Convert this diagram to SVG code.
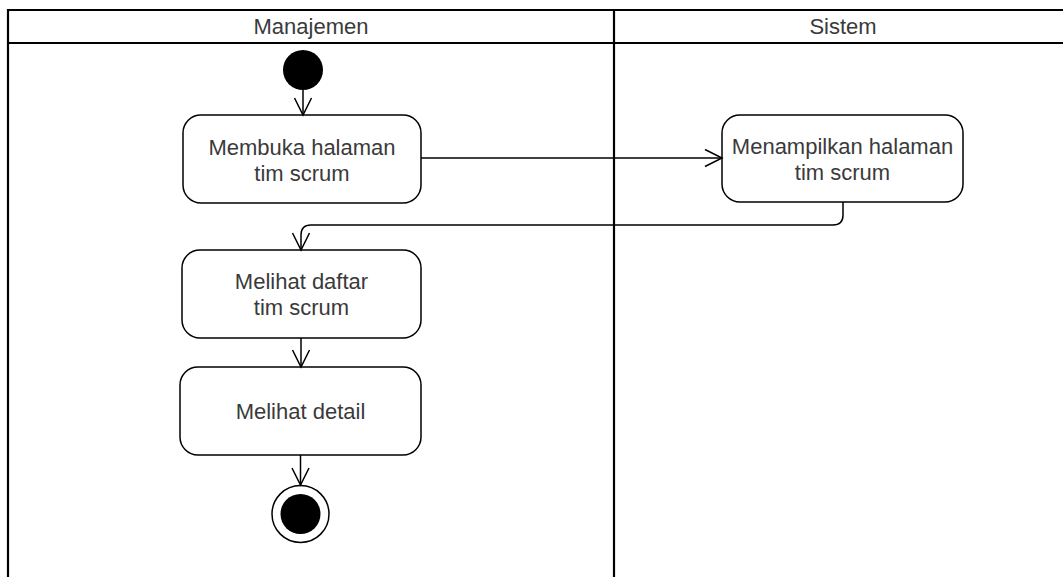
<svg xmlns="http://www.w3.org/2000/svg" width="1063" height="577" viewBox="0 0 1063 577">
<style>
.lane{stroke:#000;stroke-width:2.2;fill:none}
.box{fill:#fff;stroke:#000;stroke-width:1.5}
.t{font-family:"Liberation Sans",Arial,sans-serif;font-size:22px;fill:#3a3a3a;text-anchor:middle}
.c{fill:none;stroke:#000;stroke-width:1.5}
</style>
<defs>
<marker id="open" viewBox="0 0 22 22" refX="20" refY="11" markerWidth="22" markerHeight="22" markerUnits="userSpaceOnUse" orient="auto">
<path d="M3,2.5 L20,11 L3,19.5" fill="none" stroke="#000" stroke-width="1.5"/>
</marker>
</defs>
<rect width="1063" height="577" fill="#fff"/>
<g id="lanes">
<line class="lane" x1="8" y1="10" x2="1063" y2="10"/>
<line class="lane" x1="8" y1="43" x2="1063" y2="43"/>
<line class="lane" x1="8" y1="9" x2="8" y2="577"/>
<line class="lane" x1="614" y1="9" x2="614" y2="577"/>
<text class="t" x="311" y="34">Manajemen</text>
<text class="t" x="843" y="34">Sistem</text>
</g>
<g id="start"><circle cx="303" cy="70" r="20" fill="#000"/></g>
<g id="n1">
<rect class="box" x="183" y="115" width="238" height="88" rx="18"/>
<text class="t" x="302" y="155">Membuka halaman</text>
<text class="t" x="302" y="181">tim scrum</text>
</g>
<g id="n2">
<rect class="box" x="722" y="115" width="241" height="87" rx="18"/>
<text class="t" x="842.5" y="154">Menampilkan halaman</text>
<text class="t" x="842.5" y="180">tim scrum</text>
</g>
<g id="n3">
<rect class="box" x="182" y="250" width="239" height="88" rx="18"/>
<text class="t" x="301.5" y="289">Melihat daftar</text>
<text class="t" x="301.5" y="315">tim scrum</text>
</g>
<g id="n4">
<rect class="box" x="180" y="367" width="241" height="88" rx="18"/>
<text class="t" x="300.5" y="419">Melihat detail</text>
</g>
<g id="end">
<circle cx="300.5" cy="514" r="28.5" fill="#fff" stroke="#000" stroke-width="1.5"/>
<circle cx="300.5" cy="514" r="20" fill="#000"/>
</g>
<g id="connectors">
<line class="c" x1="303" y1="90" x2="303" y2="115" marker-end="url(#open)"/>
<line class="c" x1="421" y1="158" x2="722" y2="158" marker-end="url(#open)"/>
<path class="c" d="M843,202 V215 Q843,225 833,225 H311 Q301,225 301,235 V250" marker-end="url(#open)"/>
<line class="c" x1="301" y1="338" x2="301" y2="367" marker-end="url(#open)"/>
<line class="c" x1="300.5" y1="455" x2="300.5" y2="485" marker-end="url(#open)"/>
</g>
</svg>
